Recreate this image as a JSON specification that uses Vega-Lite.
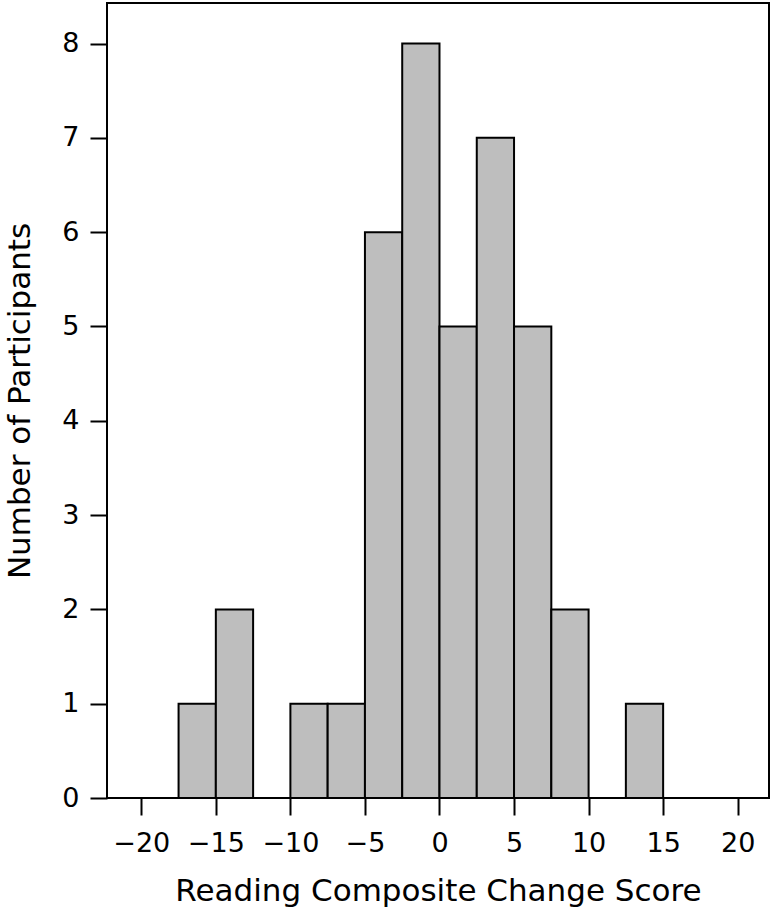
{
  "$schema": "https://vega.github.io/schema/vega-lite/v6.json",
  "width": 662,
  "height": 795,
  "autosize": {"type": "none"},
  "padding": {"left": 107, "top": 3, "right": 5, "bottom": 120},
  "background": "white",
  "config": {
    "view": {"stroke": "black", "strokeWidth": 2},
    "font": "DejaVu Sans",
    "axis": {
      "domain": false,
      "grid": false,
      "ticks": true,
      "tickColor": "black",
      "tickWidth": 2,
      "tickSize": 17,
      "labelColor": "black",
      "labelFont": "DejaVu Sans",
      "labelFontSize": 27,
      "titleFont": "DejaVu Sans",
      "titleFontSize": 31,
      "titleFontWeight": "normal",
      "titleColor": "black"
    }
  },
  "data": {
    "values": [
      {"start": -17.5, "end": -15, "count": 1},
      {"start": -15, "end": -12.5, "count": 2},
      {"start": -10, "end": -7.5, "count": 1},
      {"start": -7.5, "end": -5, "count": 1},
      {"start": -5, "end": -2.5, "count": 6},
      {"start": -2.5, "end": 0, "count": 8},
      {"start": 0, "end": 2.5, "count": 5},
      {"start": 2.5, "end": 5, "count": 7},
      {"start": 5, "end": 7.5, "count": 5},
      {"start": 7.5, "end": 10, "count": 2},
      {"start": 12.5, "end": 15, "count": 1}
    ]
  },
  "mark": {"type": "bar", "fill": "#bebebe", "stroke": "black", "strokeWidth": 2},
  "encoding": {
    "x": {
      "field": "start",
      "type": "quantitative",
      "scale": {"domain": [-22.3, 22.1], "nice": false, "zero": false},
      "axis": {
        "title": "Reading Composite Change Score",
        "values": [-20, -15, -10, -5, 0, 5, 10, 15, 20],
        "labelExpr": "replace(format(datum.value, 'd'), '-', '\u2212')",
        "labelPadding": 15,
        "titlePadding": 20,
        "labelFlush": false,
        "labelOverlap": false
      }
    },
    "x2": {"field": "end"},
    "y": {
      "field": "count",
      "type": "quantitative",
      "scale": {"domain": [0, 8.43], "nice": false},
      "axis": {
        "title": "Number of Participants",
        "values": [0, 1, 2, 3, 4, 5, 6, 7, 8],
        "labelPadding": 11,
        "titlePadding": 25,
        "labelFlush": false,
        "labelOverlap": false
      }
    },
    "y2": {"datum": 0}
  }
}
